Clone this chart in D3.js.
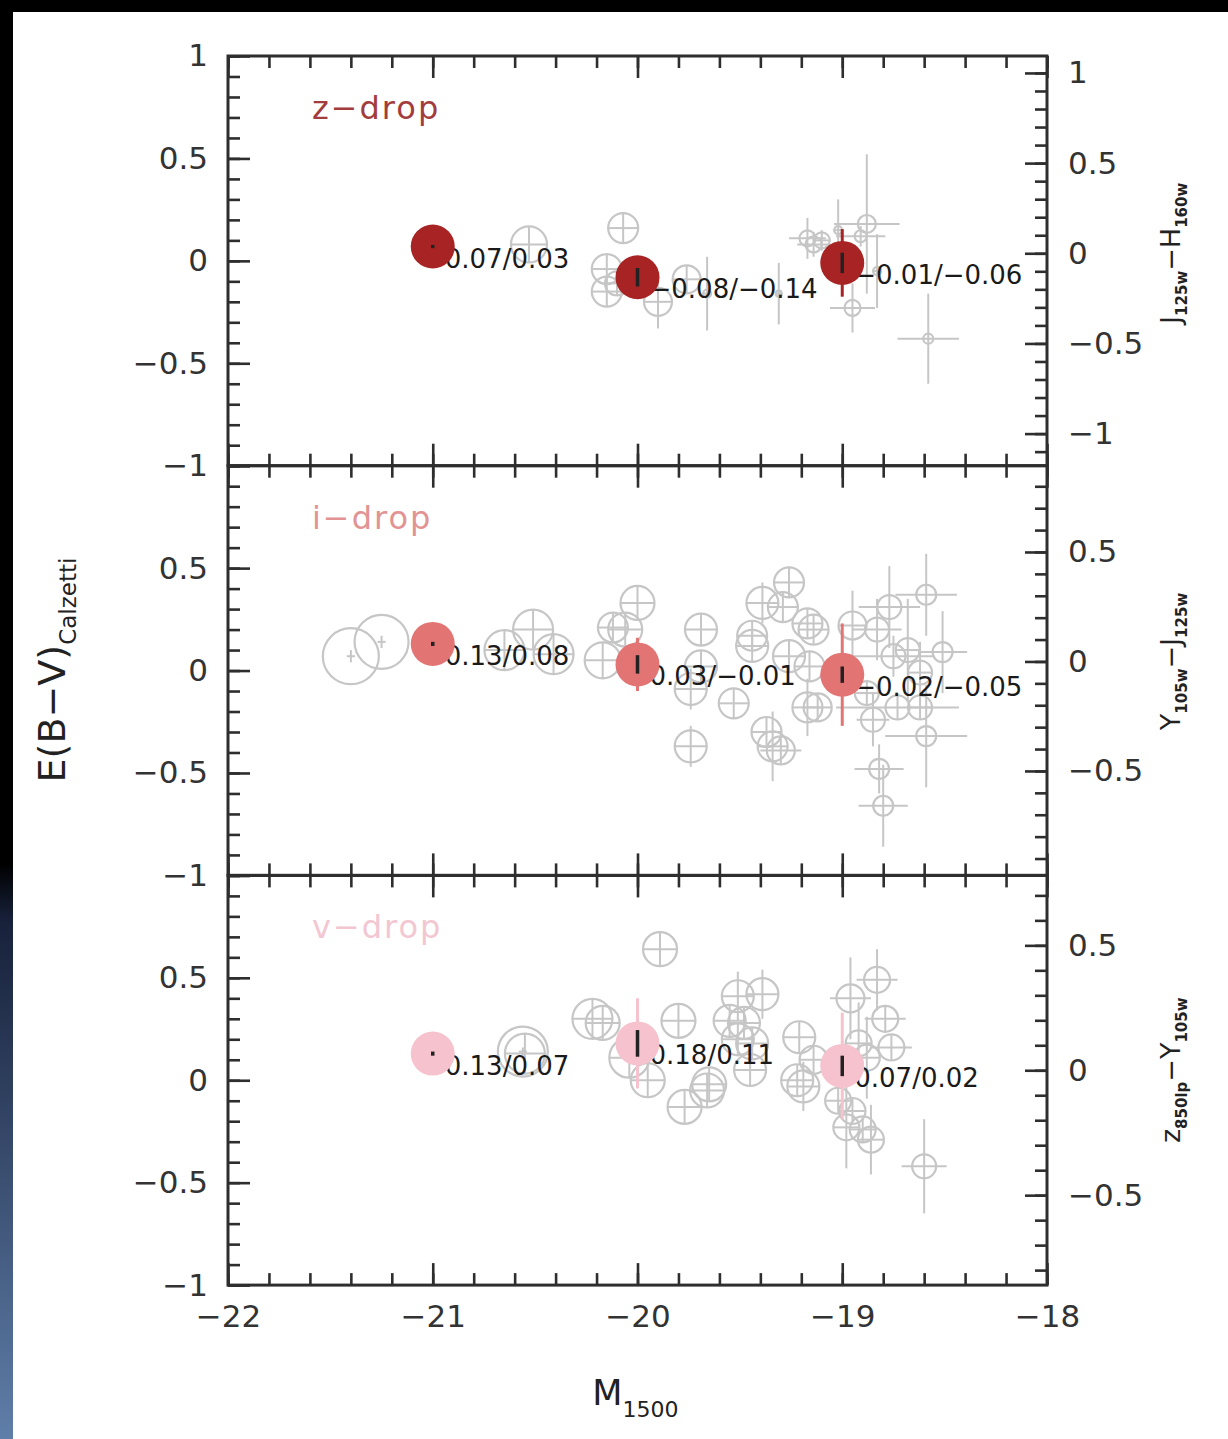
<!DOCTYPE html>
<html>
<head>
	<meta charset="utf-8">
	<title>E(B-V) vs M1500 - z, i, v drops</title>
	<script src="https://d3js.org/d3.v7.min.js"></script>
	<style>
	body { margin:0; background:#ffffff; }
	.chartContainer { width:1228px; height:1439px; }
	text { font-family:"DejaVu Sans", sans-serif; }
	.tick text { fill:#333333; font-size:31px; }
	.tick line { stroke:#2e2e2e; stroke-width:2.6; }
	.frame { fill:none; stroke:#2e2e2e; stroke-width:3; }
	.gray circle { fill:none; stroke:#c6c6c6; stroke-width:2.2; }
	.gray line { stroke:#c6c6c6; stroke-width:2; }
	.binlabel { font-size:26px; fill:#1a1a1a; }
	</style>
</head>
<body>
<div class="chartContainer"></div>
<script>
// axis ticks and labels
var xTickValues=[-22,-21,-20,-19,-18];
var yTickValues=[-1,-0.5,0,0.5,1];
var rightTickValues=[[-1,-0.5,0,0.5,1],[-0.5,0,0.5],[-0.5,0,0.5]];
// right axis (colour) range shown by each panel, bottom to top
var rightDomains=[[-1.178,1.094],[-0.977,0.894],[-0.86,0.78]];
var panelNames=["z\u2212drop","i\u2212drop","v\u2212drop"];
var rightTitles=[["J","125w","\u2212H","160w"],["Y","105w","\u2212J","125w"],["z","850lp","\u2212Y","105w"]];

// binned means, M1500 bins
var binM=[-21,-20,-19];
// z-drop: E(B-V), second value, small error, full error
var zEBV=[0.07,-0.08,-0.01];
var zEBV2=[0.03,-0.14,-0.06];
var zErr=[0.0,0.045,0.05];
var zErrTot=[0.0,0.0,0.165];
// i-drop
var iEBV=[0.13,0.03,-0.02];
var iEBV2=[0.08,-0.01,-0.05];
var iErr=[0.01,0.045,0.04];
var iErrTot=[0.0,0.13,0.25];
// v-drop
var vEBV=[0.13,0.18,0.07];
var vEBV2=[0.07,0.11,0.02];
var vErr=[0.01,0.065,0.05];
var vErrTot=[0.0,0.22,0.26];

// individual objects: [M1500, E(B-V), weight, xerr, yerr]
var zGray=[
	[-20.53,0.08,1.8,0,0.03],[-20.07,0.16,1.5,0,0],[-20.15,-0.04,1.5,0,0],[-20.15,-0.15,1.5,0,0],
	[-20.10,-0.11,1.2,0,0.06],[-19.90,-0.20,1.4,0,0.13],[-19.76,-0.09,1.4,0,0.05],[-19.66,-0.16,0.4,0,0.18],
	[-19.31,-0.16,0.3,0,0.15],[-19.17,0.11,0.8,0.09,0.10],[-19.14,0.08,0.8,0.08,0.06],[-19.02,0.15,0.4,0,0.15],
	[-18.88,0.18,0.9,0.16,0.34],[-18.91,0.12,0.6,0.12,0.05],[-18.83,-0.05,0.4,0,0.18],[-18.95,-0.23,0.8,0.11,0.12],
	[-18.58,-0.38,0.5,0.15,0.22],[-19.10,0.10,0.8,0,0.05]
];
var iGray=[
	[-21.40,0.07,2.8,0.02,0.03],[-21.25,0.14,2.7,0.02,0.03],[-20.51,0.20,2.0,0,0],[-20.65,0.10,2.0,0,0],
	[-20.41,0.08,2.0,0,0],[-20.17,0.05,1.8,0,0],[-20.00,0.33,1.7,0,0],[-20.06,0.20,1.7,0,0],
	[-20.12,0.21,1.5,0,0],[-19.69,0.20,1.6,0,0],[-19.69,0.02,1.6,0,0],[-19.74,-0.09,1.6,0,0.10],
	[-19.53,-0.16,1.5,0,0],[-19.74,-0.37,1.6,0,0.10],[-19.39,0.33,1.6,0.08,0.10],[-19.26,0.43,1.5,0,0],
	[-19.29,0.31,1.5,0,0],[-19.44,0.12,1.6,0,0],[-19.44,0.17,1.5,0,0],[-19.26,0.07,1.6,0,0],
	[-19.17,0.23,1.5,0,0],[-19.14,0.20,1.5,0,0],[-19.16,0.02,1.5,0,0],[-19.17,-0.18,1.5,0,0.14],
	[-19.12,-0.18,1.4,0,0],[-19.37,-0.30,1.5,0,0],[-19.34,-0.37,1.5,0,0.17],[-19.30,-0.39,1.4,0.10,0],
	[-18.95,0.22,1.4,0,0.17],[-18.83,0.20,1.2,0.12,0.15],[-18.77,0.31,1.2,0.15,0.20],[-18.59,0.37,1.0,0.15,0.20],
	[-18.75,0.07,1.2,0.20,0.10],[-18.68,0.10,1.2,0,0.25],[-18.51,0.09,1.0,0.12,0.20],[-18.62,-0.01,1.2,0,0.15],
	[-18.73,-0.18,1.2,0.30,0],[-18.62,-0.18,1.2,0,0],[-18.85,-0.24,1.2,0.08,0.13],[-18.59,-0.32,1.0,0.20,0.25],
	[-18.82,-0.48,1.0,0.12,0.12],[-18.80,-0.66,1.0,0.12,0.20],[-18.88,-0.11,1.2,0,0]
];
var vGray=[
	[-20.56,0.14,2.5,0.02,0.02],[-20.55,0.13,2.0,0,0],[-20.22,0.30,2.0,0,0],[-20.04,0.11,2.0,0,0],
	[-19.95,0.00,1.7,0,0],[-19.89,0.64,1.7,0,0],[-20.17,0.28,1.7,0,0],[-19.80,0.29,1.7,0,0],
	[-19.77,-0.13,1.7,0,0],[-19.66,-0.05,1.7,0,0],[-19.65,-0.02,1.7,0,0],[-19.51,0.41,1.6,0,0.12],
	[-19.39,0.42,1.6,0,0.12],[-19.55,0.29,1.6,0,0],[-19.48,0.28,1.6,0,0],[-19.51,0.20,1.6,0,0],
	[-19.44,0.18,1.6,0,0],[-19.45,0.05,1.6,0,0],[-19.21,0.21,1.6,0,0],[-19.22,0.00,1.6,0,0],
	[-19.19,-0.03,1.6,0,0.12],[-19.14,0.10,1.4,0,0],[-18.96,0.40,1.4,0.10,0.20],[-18.83,0.49,1.3,0.10,0.15],
	[-18.79,0.30,1.3,0.10,0],[-18.76,0.16,1.3,0.10,0],[-18.92,0.18,1.3,0,0.20],[-18.88,0.11,1.3,0,0.20],
	[-19.02,-0.10,1.3,0,0],[-18.95,-0.15,1.3,0,0],[-18.98,-0.23,1.3,0,0.20],[-18.90,-0.24,1.3,0,0],
	[-18.86,-0.29,1.3,0,0.17],[-18.60,-0.42,1.2,0.11,0.23]
];

var panels=[
	{name:panelNames[0],color:"#a82323",tag:"#a33c3c",ebv:zEBV,ebv2:zEBV2,err:zErr,errTot:zErrTot,gray:zGray},
	{name:panelNames[1],color:"#e27474",tag:"#e29393",ebv:iEBV,ebv2:iEBV2,err:iErr,errTot:iErrTot,gray:iGray},
	{name:panelNames[2],color:"#f5c2cd",tag:"#f3c7d1",ebv:vEBV,ebv2:vEBV2,err:vErr,errTot:vErrTot,gray:vGray}
];

var totalWidth=1228, totalHeight=1439;
var frame={left:228,right:1047,top:56};
var panelH=409.7;

var svg=d3.select(".chartContainer").append("svg")
	.attr("width",totalWidth)
	.attr("height",totalHeight);

// dark border of the original slide
var grad=svg.append("defs").append("linearGradient")
	.attr("id","sideGrad").attr("x1",0).attr("y1",0).attr("x2",0).attr("y2",1);
grad.append("stop").attr("offset","0").attr("stop-color","#000000");
grad.append("stop").attr("offset","0.6").attr("stop-color","#000000");
grad.append("stop").attr("offset","0.64").attr("stop-color","#17213a");
grad.append("stop").attr("offset","1").attr("stop-color","#5f7ea9");
svg.append("rect").attr("x",0).attr("y",0).attr("width",totalWidth).attr("height",12).attr("fill","#000");
svg.append("rect").attr("x",0).attr("y",0).attr("width",13).attr("height",totalHeight).attr("fill","url(#sideGrad)");

var x=d3.scaleLinear().domain([-22,-18]).range([frame.left,frame.right]);
var r=d3.scaleLinear().domain([0,1]).range([0,10]);
var fmt=d3.format(".2f");

panels.forEach(function(p,i) {
	var top=frame.top+i*panelH, bottom=top+panelH;
	var y=d3.scaleLinear().domain([-1,1]).range([bottom,top]);
	var yR=d3.scaleLinear().domain(rightDomains[i]).range([bottom,top]);
	var g=svg.append("g").attr("class","panel");

	// gray individual points
	var gg=g.append("g").attr("class","gray");
	p.gray.forEach(function(d) {
		var cx=x(d[0]), cy=y(d[1]), rad=r(d[2]);
		var ex=Math.abs(x(d[0]+d[3])-cx), ey=Math.abs(y(d[1]+d[4])-cy);
		var ax=d[2]>=2.2?ex:Math.max(ex,rad), ay=d[2]>=2.2?ey:Math.max(ey,rad);
		gg.append("circle").attr("cx",cx).attr("cy",cy).attr("r",rad);
		gg.append("line").attr("x1",cx-ax).attr("x2",cx+ax).attr("y1",cy).attr("y2",cy);
		gg.append("line").attr("x1",cx).attr("x2",cx).attr("y1",cy-ay).attr("y2",cy+ay);
	});

	// bin value labels (under the filled circles)
	g.selectAll(".binlabel").data(binM).enter().append("text")
		.attr("class","binlabel")
		.attr("x",function(m) { return x(m)+12; })
		.attr("y",function(m,j) { return y(p.ebv[j])+21; })
		.text(function(m,j) { return fmt(p.ebv[j])+"/"+fmt(p.ebv2[j]); });

	// total error bars
	g.selectAll(".errtot").data(binM).enter().append("line")
		.attr("stroke",p.color).attr("stroke-width",3)
		.attr("x1",function(m) { return x(m); }).attr("x2",function(m) { return x(m); })
		.attr("y1",function(m,j) { return y(p.ebv[j]+p.errTot[j]); })
		.attr("y2",function(m,j) { return y(p.ebv[j]-p.errTot[j]); });

	// filled bin circles
	g.selectAll(".bin").data(binM).enter().append("circle")
		.attr("fill",p.color)
		.attr("cx",function(m) { return x(m); })
		.attr("cy",function(m,j) { return y(p.ebv[j]); })
		.attr("r",22);

	// small black error bars
	g.selectAll(".errbar").data(binM).enter().append("line")
		.attr("stroke","#222").attr("stroke-width",3.5)
		.attr("x1",function(m) { return x(m); }).attr("x2",function(m) { return x(m); })
		.attr("y1",function(m,j) { return y(p.ebv[j]+Math.max(p.err[j],0.008)); })
		.attr("y2",function(m,j) { return y(p.ebv[j]-Math.max(p.err[j],0.008)); });

	// panel tag
	g.append("text").attr("x",x(-21.59)).attr("y",top+63)
		.attr("fill",p.tag).style("font-size","32px").style("letter-spacing","2px")
		.text(p.name);

	// axes, ticks pointing inward
	g.append("g").attr("transform","translate("+frame.left+",0)")
		.call(d3.axisLeft(y).tickValues(yTickValues).tickSize(-22).tickPadding(20)
			.tickFormat(function(d) { return (d===1 && i>0)?"":d3.format("")(d); }))
		.call(function(a) { a.select(".domain").remove(); });
	g.append("g").attr("transform","translate("+frame.left+",0)")
		.call(d3.axisLeft(y).tickValues(y.ticks(20)).tickSize(-12).tickFormat(""))
		.call(function(a) { a.select(".domain").remove(); });

	g.append("g").attr("transform","translate("+frame.right+",0)")
		.call(d3.axisRight(yR).tickValues(yR.ticks(4).filter(function(t) { return Math.abs(t*2-Math.round(t*2))<1e-6; }))
			.tickSize(-22).tickPadding(21)
			.tickFormat(function(d) { return rightTickValues[i].indexOf(d)>=0?d3.format("")(d):""; }))
		.call(function(a) { a.select(".domain").remove(); });
	g.append("g").attr("transform","translate("+frame.right+",0)")
		.call(d3.axisRight(yR).tickValues(yR.ticks(20)).tickSize(-12).tickFormat(""))
		.call(function(a) { a.select(".domain").remove(); });

	g.append("g").attr("transform","translate(0,"+top+")")
		.call(d3.axisTop(x).tickValues(xTickValues).tickSize(-22).tickFormat(""))
		.call(function(a) { a.select(".domain").remove(); });
	g.append("g").attr("transform","translate(0,"+top+")")
		.call(d3.axisTop(x).tickValues(x.ticks(20)).tickSize(-12).tickFormat(""))
		.call(function(a) { a.select(".domain").remove(); });
	g.append("g").attr("transform","translate(0,"+bottom+")")
		.call(d3.axisBottom(x).tickValues(xTickValues).tickSize(-22).tickPadding(20)
			.tickFormat(function(d) { return i===2?d3.format("")(d):""; }))
		.call(function(a) { a.select(".domain").remove(); });
	g.append("g").attr("transform","translate(0,"+bottom+")")
		.call(d3.axisBottom(x).tickValues(x.ticks(20)).tickSize(-12).tickFormat(""))
		.call(function(a) { a.select(".domain").remove(); });

	g.append("rect").attr("class","frame")
		.attr("x",frame.left).attr("y",top)
		.attr("width",frame.right-frame.left).attr("height",panelH);

	// right axis title
	var t=rightTitles[i];
	var rt=g.append("text")
		.attr("transform","translate(1180,"+yR(0)+") rotate(-90)")
		.attr("text-anchor","middle").attr("fill","#222");
	rt.append("tspan").style("font-size","27px").text(t[0]);
	rt.append("tspan").style("font-size","15px").style("font-weight","bold").attr("dy",7).text(t[1]);
	rt.append("tspan").style("font-size","27px").attr("dy",-7).text(t[2]);
	rt.append("tspan").style("font-size","15px").style("font-weight","bold").attr("dy",7).text(t[3]);
});

// left title
var lt=svg.append("text")
	.attr("transform","translate(65,670) rotate(-90)")
	.attr("text-anchor","middle").attr("fill","#222");
lt.append("tspan").style("font-size","38px").text("E(B\u2212V)");
lt.append("tspan").style("font-size","23px").attr("dy",11).text("Calzetti");

// bottom title
var bt=svg.append("text").attr("x",x(-20.01)).attr("y",1405)
	.attr("text-anchor","middle").attr("fill","#222");
bt.append("tspan").style("font-size","35px").text("M");
bt.append("tspan").style("font-size","22px").attr("dy",12).text("1500");
</script>
</body>
</html>
